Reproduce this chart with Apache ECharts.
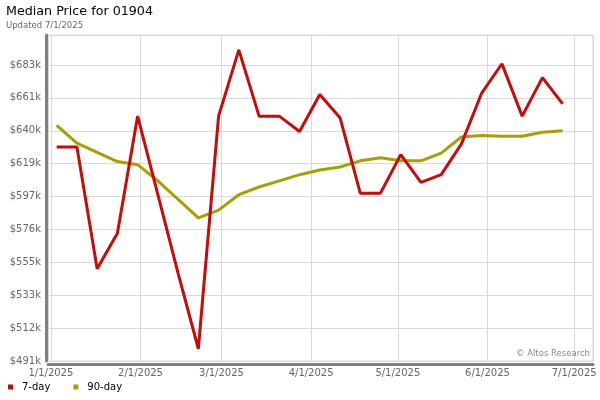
<!DOCTYPE html>
<html>
<head>
<meta charset="utf-8">
<script src="https://cdn.jsdelivr.net/npm/echarts@6/dist/echarts.min.js"></script>
<style>
html,body{margin:0;padding:0;background:#fff;}
#chart{width:600px;height:400px;}
</style>
</head>
<body>
<div id="chart"></div>
<script>
const dates = ['2025-01-03','2025-01-10','2025-01-17','2025-01-24','2025-01-31','2025-02-07','2025-02-14','2025-02-21','2025-02-28','2025-03-07','2025-03-14','2025-03-21','2025-03-28','2025-04-04','2025-04-11','2025-04-18','2025-04-25','2025-05-02','2025-05-09','2025-05-16','2025-05-23','2025-05-30','2025-06-06','2025-06-13','2025-06-20','2025-06-27'];
// median price, thousands of dollars
const sevenDay = [630,630,551,574,650,599,548,499,650,693,650,650,640,664,649,600,600,625,607,612,632,665,684,650,675,658];
const ninetyDay = [644,632.5,626.5,620.5,618.5,608,596,584,589,599,604,608,612,615,617,621,623,621,621,626,636.5,637.5,637,637,639.5,640.5];
const seriesNames = ['7-day','90-day'];
const yTickLabels = ['$491k','$512k','$533k','$555k','$576k','$597k','$619k','$640k','$661k','$683k'];

const FONT = 'DejaVu Sans';
const yStep = 21.35;
const yMin = 23 * yStep;

const chart = echarts.init(document.getElementById('chart'), null, {renderer:'canvas'});
const pairs = arr => arr.map((v,i) => [dates[i], v]);

chart.setOption({
  animation: false,
  textStyle: {fontFamily: FONT},
  title: {
    text: 'Median Price for 01904',
    subtext: 'Updated 7/1/2025',
    left: 6, top: 5, padding: 0, itemGap: 3,
    textStyle: {fontSize: 12.7, fontWeight: 'normal', color: '#000', fontFamily: FONT},
    subtextStyle: {fontSize: 8.5, color: '#666', fontFamily: FONT}
  },
  legend: {
    data: seriesNames,
    left: 8, top: 382, padding: 0, icon: 'rect', itemWidth: 5, itemHeight: 5, itemGap: 23,
    textStyle: {fontSize: 10, color: '#000', fontFamily: FONT, padding: [0,0,0,4]}
  },
  grid: {
    left: 48, right: 7, top: 35, bottom: 39,
    outerBoundsMode: 'none',
    show: true, borderColor: '#d9d9d9', borderWidth: 1, containLabel: false
  },
  xAxis: {
    type: 'time',
    min: '2024-12-31',
    max: '2025-07-07 12:00',
    splitNumber: 6,
    axisLine: {show: true, onZero: false, lineStyle: {color: '#808080', width: 3}},
    offset: 3,
    axisTick: {show: false},
    splitLine: {show: true, lineStyle: {color: '#d9d9d9', width: 1}},
    axisLabel: {
      fontSize: 10, color: '#666', fontFamily: FONT, margin: 4,
      hideOverlap: false, showMinLabel: false, showMaxLabel: false,
      formatter: v => { const d = new Date(v); return (d.getMonth()+1) + '/' + d.getDate() + '/' + d.getFullYear(); }
    }
  },
  yAxis: {
    type: 'value',
    min: yMin,
    max: yMin + 326 / 32.89 * yStep,
    interval: yStep,
    offset: 2,
    axisLine: {show: true, onZero: false, lineStyle: {color: '#808080', width: 3}},
    axisTick: {show: false},
    splitLine: {show: true, lineStyle: {color: '#d9d9d9', width: 1}},
    axisLabel: {
      fontSize: 10, color: '#666', fontFamily: FONT, margin: 5, showMaxLabel: false,
      formatter: v => { const i = Math.round((v - yMin) / yStep); return yTickLabels[i] || ''; }
    }
  },
  series: [
    {name: seriesNames[0], type: 'line', data: pairs(sevenDay), symbol: 'none', color: '#c80a0a',
     lineStyle: {width: 3, color: '#c80a0a'}, z: 3},
    {name: seriesNames[1], type: 'line', data: pairs(ninetyDay), symbol: 'none', color: '#a8a000',
     lineStyle: {width: 3, color: '#a8a000'}, z: 2}
  ],
  graphic: [
    {type: 'text', right: 10, top: 349, z: 10,
     style: {text: '\u00a9 Altos Research', fontSize: 8.5, fill: '#888', fontFamily: FONT}}
  ]
});
</script>
</body>
</html>
